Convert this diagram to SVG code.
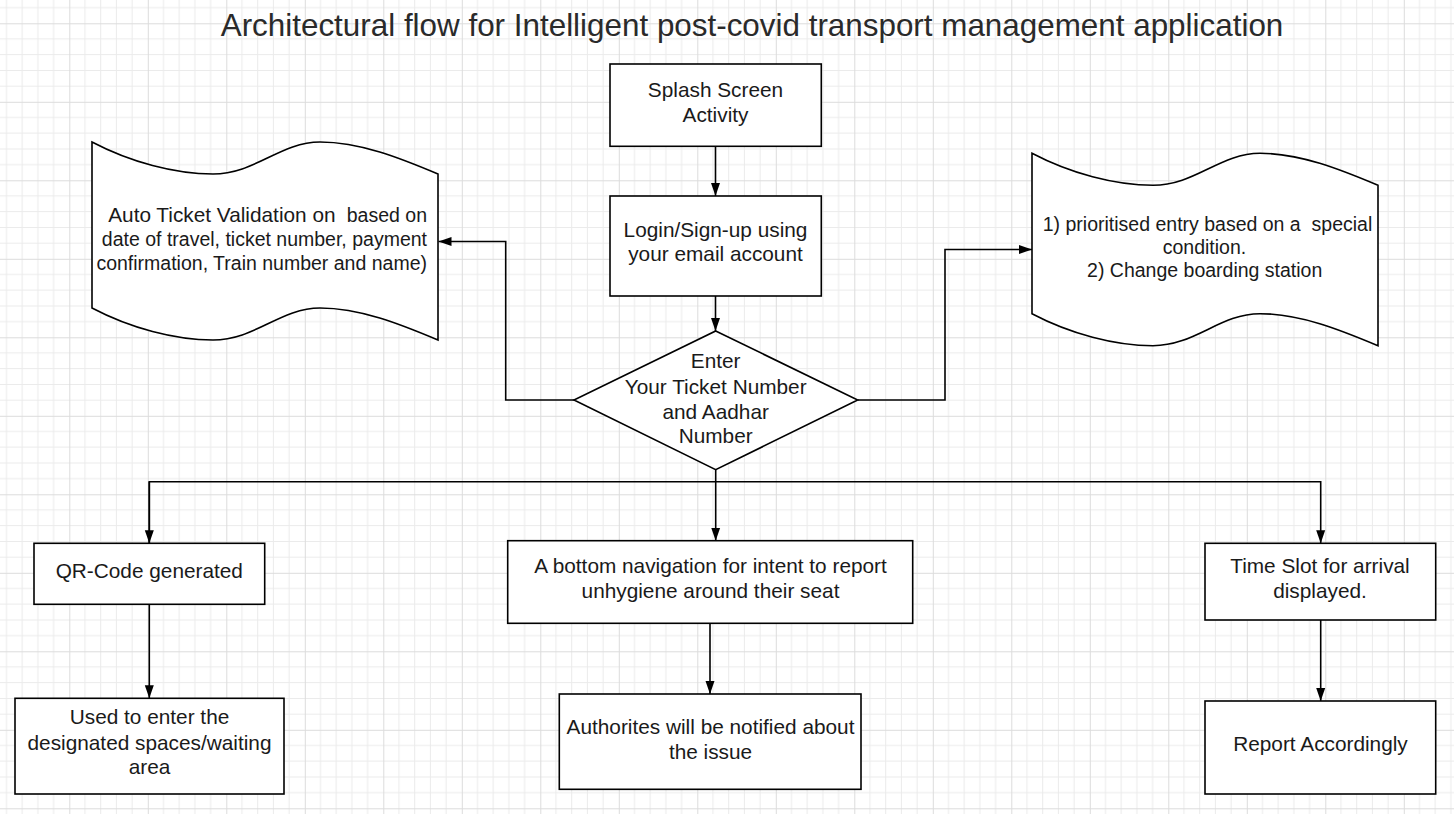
<svg xmlns="http://www.w3.org/2000/svg" width="1454" height="814" viewBox="0 0 1454 814">
<style>
.shape{fill:#fff;stroke:#000;stroke-width:1.6}
.t{font-family:"Liberation Sans",Arial,sans-serif;font-size:20.8px;fill:#1a1a1a;text-anchor:middle}
.d{font-size:19.5px}
.title{font-family:"Liberation Sans",Arial,sans-serif;font-size:31.4px;fill:#2a2a2a;text-anchor:middle}
.c{fill:none;stroke:#000;stroke-width:1.6}
</style>
<defs>
<pattern id="grid" patternUnits="userSpaceOnUse" x="69.3" y="23.3" width="78.5" height="78.5">
<path d="M15.7,0V78.5M31.4,0V78.5M47.1,0V78.5M62.8,0V78.5M0,15.7H78.5M0,31.4H78.5M0,47.1H78.5M0,62.8H78.5" stroke="#ebebeb" stroke-width="1" fill="none"/>
<path d="M0.5,0V78.5M0,0.5H78.5" stroke="#dcdcdc" stroke-width="1" fill="none"/>
</pattern>
<marker id="arr" markerUnits="userSpaceOnUse" markerWidth="14" markerHeight="10" refX="13" refY="5" orient="auto">
<path d="M0,0.5 L13,5 L0,9.5 Z" fill="#000"/>
</marker>
</defs>
<rect width="1454" height="814" fill="#fff"/>
<rect width="1454" height="814" fill="url(#grid)"/>
<text class="title" x="752" y="36">Architectural flow for Intelligent post-covid transport management application</text>

<g id="connectors">
<path class="c" d="M715.5,146.3V196" marker-end="url(#arr)"/>
<path class="c" d="M715.5,296V331" marker-end="url(#arr)"/>
<path class="c" d="M574,400H505.7V241.5H438.5" marker-end="url(#arr)"/>
<path class="c" d="M858,400H945V249.5H1032" marker-end="url(#arr)"/>
<path class="c" d="M715.7,469.7V540.7" marker-end="url(#arr)"/>
<path class="c" d="M149.3,543.3V481.7H1320.7V543.3" marker-end="url(#arr)"/>
<path class="c" d="M149.3,481.7V543.3" marker-end="url(#arr)"/>
<path class="c" d="M149.3,604.3V698.3" marker-end="url(#arr)"/>
<path class="c" d="M710,623.3V694" marker-end="url(#arr)"/>
<path class="c" d="M1320.7,620V701" marker-end="url(#arr)"/>
</g>

<g id="splash">
<rect class="shape" x="610" y="64" width="211.3" height="82.3"/>
<text class="t" x="715.5" y="96.5">Splash Screen</text>
<text class="t" x="715.5" y="121.7">Activity</text>
</g>
<g id="login">
<rect class="shape" x="610" y="196" width="211.3" height="100"/>
<text class="t" x="715.5" y="236.7">Login/Sign-up using</text>
<text class="t" x="715.5" y="261.3">your email account</text>
</g>
<g id="decision">
<path class="shape" d="M715.7,331L857.7,400L715.7,469.7L574,400Z"/>
<text class="t" x="715.7" y="368.3">Enter</text>
<text class="t" x="715.7" y="393.5">Your Ticket Number</text>
<text class="t" x="715.7" y="418.5">and Aadhar</text>
<text class="t" x="715.7" y="443.3">Number</text>
</g>
<g id="validation">
<path class="shape" d="M92,142C130,162 175,174 213,174C255,174 280,142 320,142C360,142 400,158 438,174L438,340C400,324 360,308 320,308C280,308 255,340 213,340C175,340 130,328 92,308Z"/>
<text class="t" x="427" y="222" style="text-anchor:end" xml:space="preserve">Auto Ticket Validation on <tspan class="d"> based on</tspan></text>
<text class="t d" x="427" y="246" style="text-anchor:end">date of travel, ticket number, payment</text>
<text class="t d" x="427" y="269.5" style="text-anchor:end">confirmation, Train number and name)</text>
</g>
<g id="priority">
<path class="shape" d="M1032,153.3C1070,173.3 1115,185.3 1153,185.3C1195,185.3 1220,153.3 1260,153.3C1300,153.3 1340,169.3 1378,185.3L1378,345.7C1340,329.7 1300,313.7 1260,313.7C1220,313.7 1195,345.7 1153,345.7C1115,345.7 1070,333.7 1032,313.7Z"/>
<text class="t d" x="1207.5" y="230.7" xml:space="preserve">1) prioritised entry based on a  special</text>
<text class="t d" x="1204.5" y="253.5">condition.</text>
<text class="t d" x="1204.7" y="277.3">2) Change boarding station</text>
</g>
<g id="qr">
<rect class="shape" x="34" y="543.3" width="230.7" height="61"/>
<text class="t" x="149.3" y="578.3">QR-Code generated</text>
</g>
<g id="used">
<rect class="shape" x="15" y="698.3" width="269" height="95.7"/>
<text class="t" x="149.5" y="724">Used to enter the</text>
<text class="t" x="149.5" y="749.5">designated spaces/waiting</text>
<text class="t" x="149.5" y="774">area</text>
</g>
<g id="bottomnav">
<rect class="shape" x="507.7" y="540.7" width="405" height="82.6"/>
<text class="t" x="710.5" y="573.3">A bottom navigation for intent to report</text>
<text class="t" x="710.5" y="598.3">unhygiene around their seat</text>
</g>
<g id="authorities">
<rect class="shape" x="559.3" y="694" width="301.7" height="95.3"/>
<text class="t" x="710.5" y="734">Authorites will be notified about</text>
<text class="t" x="710.5" y="759.3">the issue</text>
</g>
<g id="timeslot">
<rect class="shape" x="1205" y="543.3" width="230.7" height="76.7"/>
<text class="t" x="1320" y="573.3">Time Slot for arrival</text>
<text class="t" x="1320" y="598.3">displayed.</text>
</g>
<g id="report">
<rect class="shape" x="1205" y="701" width="230.7" height="93"/>
<text class="t" x="1320.5" y="751">Report Accordingly</text>
</g>
</svg>
